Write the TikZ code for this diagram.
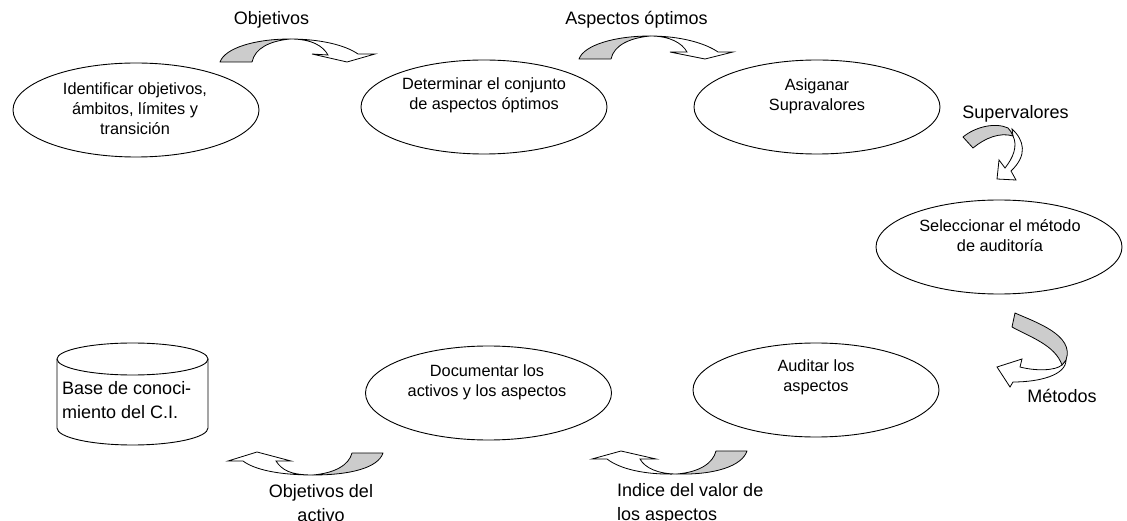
\documentclass[tikz,border=0pt]{standalone}
\usepackage{fontspec}
\setmainfont{Liberation Sans}
\usetikzlibrary{shapes.geometric}
\tikzset{
 x=1pt,y=-1pt,
 stage/.style={draw,ellipse,line width=0.9pt,minimum width=246pt,minimum height=94pt,inner sep=0pt},
 stagetext/.style={align=center,inner sep=0pt,font=\fontsize{16.3}{20}\selectfont},
 flowlabel/.style={align=center,inner sep=0pt,font=\fontsize{18}{24}\selectfont},
 band/.style={draw=black,fill=black!20,line width=0.8pt,line join=round},
 sweep/.style={draw=black,fill=white,line width=0.8pt,line join=miter}
}
\begin{document}
\begin{tikzpicture}
\useasboundingbox (0,0) rectangle (1127,521);
% ellipses
\node[stage] (e1) at (136,110) {};
\node[stagetext] (t1) at (135,108.5) {Identificar objetivos,\\ámbitos, límites y\\transición};
\node[stage] (e2) at (484,107) {};
\node[stagetext] (t2) at (484,95) {Determinar el conjunto\\de aspectos óptimos};
\node[stage] (e3) at (817,107) {};
\node[stagetext] (t3) at (817,96) {Asiganar\\Supravalores};
\node[stage] (e4) at (999,247) {};
\node[stagetext] (t4) at (1000,236) {Seleccionar el método\\de auditoría};
\node[stage] (e5) at (816,390) {};
\node[stagetext] (t5) at (816,377) {Auditar los\\aspectos};
\node[stage] (e6) at (488.5,393) {};
\node[stagetext] (t6) at (487,382.5) {Documentar los\\activos y los aspectos};
% cylinder
\draw[line width=0.9pt,fill=white] (57,359) -- (57,428) arc[start angle=180,end angle=360,x radius=75.5,y radius=-17] -- (208,359);
\draw[line width=0.9pt] (132.5,359) ellipse (75.5 and 16);
\node[inner sep=0pt,align=left,anchor=west,font=\fontsize{18}{24}\selectfont] (db) at (62,400) {Base de conoci-\\miento del C.I.};
% arrow 1
\draw[sweep] (290,39) .. controls (312,39) and (323,46) .. (328,55) -- (312,54) -- (347,62) -- (375,54) -- (358,54) .. controls (345,45) and (320,39) .. (290,39) -- cycle;
\draw[band] (220,62) .. controls (225,48) and (255,39) .. (290,39) .. controls (270,41) and (255,48) .. (252,62) -- cycle;
% arrow 2
\draw[sweep] (650,36) .. controls (670,36) and (682,43) .. (687,52) -- (670,52) -- (705,59) -- (733,52) -- (718,52) .. controls (705,43) and (680,36) .. (650,36) -- cycle;
\draw[band] (579,59) .. controls (584,45) and (615,36) .. (650,36) .. controls (630,38) and (614,45) .. (611,59) -- cycle;
% arrow 3 Supervalores
\draw[sweep] (1012,129) .. controls (1024,140) and (1028,155) .. (1011,171) -- (1016,180) -- (997,179) -- (999,160) -- (1005,168) .. controls (1013,158) and (1018,146) .. (1013,136) -- cycle;
\draw[band] (963,137) .. controls (975,127) and (995,122) .. (1008,128) .. controls (1010,130) and (1012,133) .. (1013,136) .. controls (1000,132) and (985,138) .. (973,148) -- cycle;
% arrow 4 Metodos
\draw[sweep] (1066,360) .. controls (1066,375) and (1040,382) .. (1013,382) -- (1010,387) -- (997,367) -- (1022,359) -- (1020,367) .. controls (1035,371) and (1055,371) .. (1062,365) -- cycle;
\draw[band] (1015,313) .. controls (1035,322) and (1075,335) .. (1066,360) -- (1062,365) .. controls (1055,345) and (1030,337) .. (1012,327) -- cycle;
% arrow 5
\draw[sweep] (313,475) .. controls (290,475) and (282,470) .. (276,461) -- (291,461) -- (257,452) -- (228,461) -- (243,461) .. controls (255,470) and (280,475) .. (313,475) -- cycle;
\draw[band] (383,453) .. controls (378,468) and (350,475) .. (313,475) .. controls (335,473) and (349,465) .. (352,453) -- cycle;
% arrow 6
\draw[sweep] (677,474) .. controls (658,474) and (645,468) .. (640,459) -- (656,459) -- (621,451) -- (592,459) -- (607,459) .. controls (620,469) and (645,475) .. (677,474) -- cycle;
\draw[band] (747,451) .. controls (742,466) and (715,475) .. (677,474) .. controls (700,472) and (713,463) .. (716,451) -- cycle;
% labels
\node[flowlabel] (l1) at (271.5,20) {Objetivos};
\node[flowlabel] (l2) at (636.5,20) {Aspectos óptimos};
\node[flowlabel] (l3) at (1015.5,114) {Supervalores};
\node[flowlabel] (l4) at (1062,396) {Métodos};
\node[flowlabel] (l5) at (321,503) {Objetivos del\\activo};
\node[flowlabel,align=left,anchor=west] (l6) at (617,503.5) {Indice del valor de\\los aspectos};
\end{tikzpicture}
\end{document}
